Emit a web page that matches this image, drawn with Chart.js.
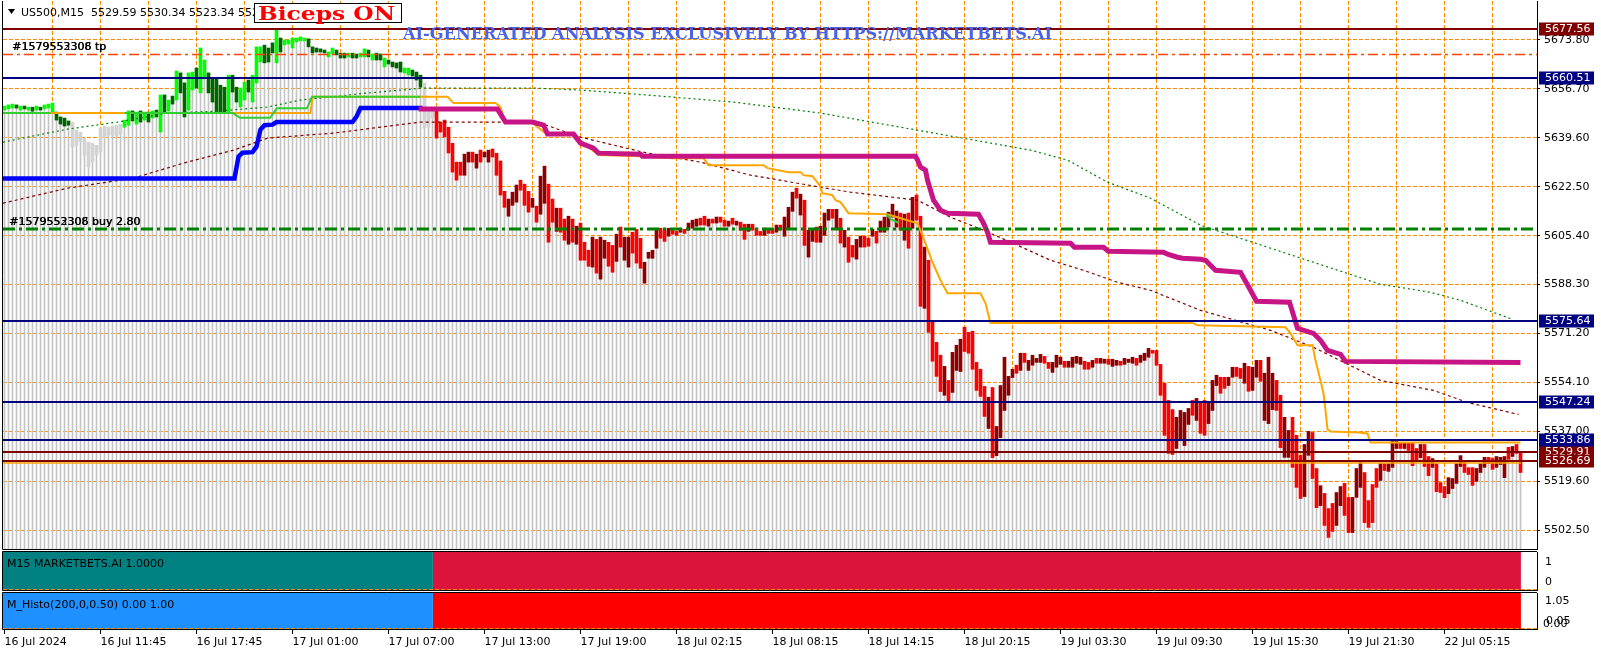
<!DOCTYPE html>
<html>
<head>
<meta charset="utf-8">
<script src="https://cdn.jsdelivr.net/npm/chart.js@4"></script>
<style>
  html, body { margin: 0; padding: 0; background: #fff; }
  body { width: 1601px; height: 654px; position: relative; overflow: hidden; }
  canvas { position: absolute; left: 0; }
  #main { top: 0; }
  #sub1 { top: 551px; }
  #sub2 { top: 592px; }
</style>
</head>
<body>
<canvas id="main" width="1601" height="551"></canvas>
<canvas id="sub1" width="1601" height="40"></canvas>
<canvas id="sub2" width="1601" height="62"></canvas>
<script>
// US500 M15 bodies, one entry per bar
const opens = [
  5649.3, 5649.7, 5650.0, 5651.1, 5649.3, 5650.7, 5649.3, 5650.3, 5649.3, 5650.3,
  5649.7, 5650.0, 5648.6, 5648.6, 5646.9, 5646.5, 5645.5, 5645.1, 5642.3, 5641.6,
  5639.5, 5638.1, 5631.1, 5633.6, 5634.6, 5643.7, 5640.5, 5640.5, 5640.2, 5640.9,
  5643.3, 5644.0, 5649.0, 5644.4, 5649.0, 5645.8, 5648.6, 5646.5, 5649.3, 5641.6,
  5654.6, 5649.0, 5654.2, 5652.8, 5662.3, 5658.8, 5649.3, 5656.3, 5664.0, 5655.3,
  5660.5, 5662.3, 5660.5, 5660.5, 5658.0, 5657.3, 5648.6, 5661.5, 5657.3, 5650.4,
  5652.8, 5659.8, 5652.1, 5658.8, 5666.1, 5672.0, 5671.0, 5672.8, 5665.8, 5674.5,
  5672.1, 5672.4, 5671.0, 5673.1, 5673.5, 5673.5, 5674.2, 5671.4, 5671.0, 5670.7,
  5670.3, 5667.9, 5668.9, 5670.3, 5669.2, 5669.2, 5667.9, 5669.2, 5668.9, 5667.9,
  5667.9, 5670.3, 5666.8, 5669.2, 5668.9, 5664.4, 5666.8, 5666.1, 5665.8, 5666.1,
  5662.3, 5661.6, 5663.3, 5662.6, 5661.5, 5658.8, 5643.3, 5646.5, 5650.0, 5645.1,
  5645.8, 5643.3, 5637.7, 5631.1, 5631.1, 5626.5, 5631.1, 5634.6, 5629.0, 5635.3,
  5632.9, 5631.1, 5635.7, 5634.2, 5631.5, 5620.9, 5612.2, 5616.0, 5617.1, 5624.8,
  5623.4, 5620.9, 5615.3, 5615.7, 5612.9, 5616.7, 5623.4, 5618.2, 5606.9, 5615.0,
  5611.2, 5602.4, 5611.2, 5602.4, 5609.8, 5603.1, 5600.3, 5594.4, 5604.1, 5590.2,
  5597.5, 5603.1, 5602.0, 5596.4, 5608.4, 5596.8, 5594.4, 5606.6, 5607.6, 5604.5,
  5588.8, 5597.5, 5597.5, 5601.0, 5608.0, 5607.3, 5605.2, 5607.6, 5606.9, 5606.6,
  5607.6, 5607.3, 5608.0, 5608.7, 5611.5, 5612.2, 5608.7, 5611.2, 5609.8, 5611.9,
  5610.8, 5608.7, 5611.5, 5609.1, 5610.1, 5609.4, 5606.9, 5609.4, 5608.0, 5606.9,
  5605.5, 5607.6, 5607.6, 5606.6, 5609.1, 5605.2, 5608.0, 5613.9, 5622.0, 5612.6,
  5617.8, 5597.9, 5603.4, 5608.4, 5603.1, 5605.5, 5610.8, 5614.6, 5608.0, 5611.5,
  5601.4, 5604.9, 5602.0, 5597.2, 5601.4, 5605.2, 5604.5, 5605.2, 5606.9, 5606.6,
  5606.6, 5608.4, 5611.9, 5608.4, 5613.3, 5603.8, 5613.3, 5608.0, 5619.6, 5612.2,
  5580.0, 5596.8, 5575.1, 5568.1, 5563.6, 5549.6, 5554.8, 5550.6, 5558.3, 5557.9,
  5573.4, 5571.6, 5572.0, 5561.1, 5558.7, 5552.7, 5538.0, 5552.3, 5528.5, 5534.8,
  5544.3, 5549.6, 5555.8, 5560.1, 5558.3, 5564.3, 5558.3, 5560.1, 5561.1, 5561.1,
  5563.2, 5561.1, 5557.6, 5559.4, 5560.4, 5561.5, 5559.4, 5559.4, 5560.8, 5560.4,
  5561.5, 5561.1, 5559.4, 5562.5, 5560.8, 5560.8, 5562.2, 5559.7, 5560.1, 5561.5,
  5560.4, 5561.1, 5560.8, 5562.5, 5561.1, 5561.8, 5562.9, 5565.3, 5565.3, 5560.4,
  5553.8, 5547.8, 5544.6, 5531.0, 5533.8, 5532.0, 5539.4, 5547.8, 5540.8, 5546.8,
  5547.8, 5539.7, 5544.3, 5553.0, 5555.9, 5555.9, 5553.0, 5555.9, 5559.4, 5559.0,
  5553.8, 5559.7, 5551.3, 5555.9, 5561.8, 5540.8, 5539.7, 5544.6, 5554.8, 5549.6,
  5527.9, 5527.9, 5541.9, 5535.6, 5528.6, 5514.2, 5528.6, 5536.6, 5524.0, 5511.0,
  5515.3, 5510.0, 5511.8, 5504.1, 5511.0, 5518.8, 5513.9, 5501.6, 5513.9, 5517.4,
  5522.6, 5512.8, 5518.4, 5524.0, 5519.8, 5525.7, 5523.0, 5524.4, 5531.0, 5532.8,
  5531.0, 5532.8, 5532.8, 5531.0, 5527.8, 5532.4, 5528.2, 5524.4, 5525.7, 5519.1,
  5517.7, 5515.2, 5517.0, 5518.8, 5524.7, 5526.1, 5524.3, 5524.3, 5519.5, 5522.6,
  5524.4, 5527.9, 5527.5, 5524.4, 5525.4, 5520.8, 5531.4, 5528.2, 5532.4, 5529.6
];
const closes = [
  5650.7, 5651.1, 5651.4, 5650.0, 5650.7, 5649.7, 5650.3, 5648.9, 5650.7, 5649.3,
  5651.1, 5651.4, 5651.8, 5645.8, 5644.4, 5643.7, 5644.0, 5636.3, 5637.0, 5638.4,
  5633.6, 5629.4, 5637.7, 5637.0, 5643.0, 5639.5, 5643.3, 5643.7, 5644.0, 5644.4,
  5645.8, 5649.0, 5645.5, 5648.6, 5645.1, 5648.6, 5645.1, 5649.0, 5646.9, 5654.6,
  5648.6, 5652.8, 5651.4, 5663.0, 5655.3, 5646.9, 5662.3, 5662.6, 5657.0, 5671.0,
  5666.8, 5655.3, 5652.1, 5648.3, 5648.6, 5648.3, 5661.5, 5655.6, 5652.1, 5657.0,
  5659.1, 5655.6, 5661.5, 5671.4, 5671.4, 5665.8, 5666.1, 5669.3, 5677.3, 5669.6,
  5673.8, 5673.8, 5674.5, 5674.5, 5674.9, 5674.5, 5671.4, 5669.3, 5669.6, 5669.6,
  5669.3, 5669.6, 5671.0, 5668.6, 5667.5, 5667.5, 5669.2, 5667.5, 5667.5, 5669.2,
  5670.7, 5667.9, 5668.9, 5666.8, 5666.8, 5667.5, 5665.4, 5664.4, 5664.0, 5662.6,
  5664.0, 5664.0, 5661.2, 5659.8, 5657.3, 5643.0, 5650.0, 5650.0, 5639.5, 5641.6,
  5639.9, 5634.3, 5627.6, 5624.8, 5626.5, 5633.9, 5634.6, 5631.1, 5633.9, 5631.1,
  5634.6, 5635.3, 5632.9, 5626.5, 5619.6, 5615.3, 5618.2, 5620.6, 5623.1, 5621.3,
  5616.0, 5613.6, 5618.5, 5610.1, 5626.2, 5629.7, 5603.1, 5610.1, 5615.0, 5606.6,
  5603.8, 5612.2, 5603.1, 5608.7, 5596.8, 5596.8, 5594.7, 5604.9, 5592.3, 5604.9,
  5603.8, 5594.7, 5592.6, 5605.9, 5601.4, 5604.9, 5604.9, 5599.3, 5595.8, 5594.0,
  5596.1, 5599.6, 5600.3, 5608.0, 5604.5, 5603.4, 5608.0, 5605.9, 5605.5, 5608.0,
  5606.2, 5609.8, 5610.8, 5611.2, 5609.1, 5609.1, 5611.2, 5609.8, 5611.9, 5610.1,
  5608.7, 5610.5, 5609.4, 5610.5, 5607.3, 5604.1, 5609.4, 5607.3, 5605.5, 5605.5,
  5608.0, 5606.2, 5606.2, 5609.1, 5607.3, 5611.9, 5615.3, 5620.6, 5618.5, 5619.9,
  5602.0, 5607.3, 5607.6, 5603.1, 5608.7, 5613.3, 5614.6, 5611.5, 5614.6, 5602.8,
  5607.3, 5596.1, 5597.9, 5604.1, 5605.2, 5601.4, 5601.7, 5607.6, 5602.8, 5610.5,
  5611.9, 5613.6, 5616.4, 5614.0, 5607.3, 5612.9, 5601.0, 5618.8, 5610.8, 5580.7,
  5601.4, 5571.6, 5561.5, 5556.2, 5550.9, 5559.7, 5547.4, 5564.6, 5567.1, 5569.2,
  5564.9, 5564.3, 5558.7, 5551.3, 5549.2, 5542.2, 5548.9, 5527.8, 5538.7, 5553.0,
  5562.9, 5556.2, 5558.7, 5557.3, 5564.3, 5561.1, 5561.8, 5563.6, 5562.5, 5563.9,
  5560.8, 5559.0, 5561.1, 5563.6, 5562.9, 5559.4, 5561.5, 5562.9, 5563.2, 5562.9,
  5558.7, 5558.7, 5561.8, 5560.8, 5562.5, 5562.2, 5560.4, 5562.2, 5561.8, 5560.1,
  5562.5, 5562.2, 5562.9, 5560.1, 5563.6, 5564.3, 5566.0, 5564.3, 5560.1, 5549.6,
  5535.6, 5529.3, 5528.9, 5541.9, 5544.3, 5543.6, 5545.0, 5542.6, 5548.5, 5536.3,
  5535.6, 5547.1, 5554.8, 5556.6, 5550.3, 5552.0, 5555.9, 5559.4, 5556.2, 5555.5,
  5560.8, 5551.0, 5559.4, 5561.8, 5554.5, 5557.3, 5562.9, 5557.3, 5544.3, 5531.3,
  5541.9, 5537.3, 5524.4, 5517.4, 5513.5, 5532.4, 5537.0, 5520.5, 5510.3, 5518.0,
  5504.1, 5499.9, 5502.0, 5515.6, 5517.7, 5507.6, 5501.6, 5513.9, 5524.0, 5526.1,
  5505.1, 5503.4, 5505.1, 5517.4, 5525.7, 5523.3, 5525.7, 5533.8, 5534.2, 5531.0,
  5533.1, 5530.3, 5525.0, 5526.8, 5532.4, 5524.7, 5521.5, 5527.5, 5515.9, 5515.6,
  5513.8, 5520.8, 5520.5, 5525.7, 5528.5, 5522.6, 5521.9, 5518.1, 5524.0, 5525.7,
  5527.9, 5525.7, 5523.7, 5528.2, 5527.9, 5528.2, 5527.2, 5531.7, 5529.3, 5522.6
];
// bars painted neutral grey by the trend indicator, and the bar where the trend turns down
const neutralBars = [17, 18, 19, 20, 21, 22, 23, 24, 25, 26, 27, 28, 29, 105, 106, 107];
const trendFlipBar = 108;

const timeLabels = ['16 Jul 2024', '16 Jul 11:45', '16 Jul 17:45', '17 Jul 01:00', '17 Jul 07:00',
  '17 Jul 13:00', '17 Jul 19:00', '18 Jul 02:15', '18 Jul 08:15', '18 Jul 14:15', '18 Jul 20:15',
  '19 Jul 03:30', '19 Jul 09:30', '19 Jul 15:30', '19 Jul 21:30', '22 Jul 05:15'];
const timeLabelBars = [0, 24, 48, 72, 96, 120, 144, 168, 192, 216, 240, 264, 288, 312, 336, 360];
const priceTicks = [5673.80, 5656.70, 5639.60, 5622.50, 5605.40, 5588.30, 5571.20, 5554.10, 5537.00, 5519.60, 5502.50];

// indicator lines, as vertices (bar index, price)
const blueBars = [-0.375, 57.5, 58.5, 59.5, 62, 63, 64, 65, 67, 68, 87, 88, 89, 104.5];
const bluePrices = [5625.4, 5625.4, 5633.0, 5634.4, 5634.6, 5636.5, 5642.5, 5644.0, 5644.2, 5645.1, 5645.1, 5647.0, 5650.0, 5650.0];

const magentaBars = [103.5, 123.25, 125.25, 132, 134.75, 135.75, 142.25, 144, 147.25, 148.5, 159, 159.5, 227.75, 228.25,
  229, 230.25, 230.75, 232.25, 234, 235.75, 243.5, 244.75, 245.75, 246.5, 266.5, 267.5, 274.75, 276, 289.75, 290.75,
  293.25, 294.5, 299, 300.25, 302.75, 309, 311.5, 313, 321.25, 323.25, 327.25, 329, 330.75, 334, 335.25, 379];
const magentaPrices = [5649.65, 5649.65, 5645.1, 5645.1, 5644.05, 5640.9, 5640.9, 5637.75, 5636.0, 5634.25, 5633.9, 5633.2,
  5633.2, 5631.8, 5629.35, 5628.3, 5624.8, 5617.8, 5614.3, 5613.25, 5612.9, 5609.75, 5606.6, 5603.1, 5602.75, 5601.35,
  5601.35, 5599.95, 5599.6, 5598.9, 5597.85, 5597.5, 5597.15, 5596.8, 5593.3, 5592.6, 5586.3, 5582.45, 5582.1, 5573.0,
  5571.25, 5568.8, 5565.3, 5563.9, 5561.45, 5561.1];

const orangeBars = [-0.375, 76.5, 77, 110.75, 112.25, 122.75, 124, 125.25, 132, 135.75, 142.25, 148.5, 159, 167, 174.75,
  176, 189.75, 190.75, 196, 199, 199.75, 202, 203.75, 204.5, 207, 207.75, 209, 211, 220.75, 228.25, 229.75, 232, 234,
  235.75, 244, 245.25, 246.5, 297, 298.25, 320.25, 321.5, 323.25, 327, 327.75, 329, 329.75, 330.25, 330.75, 331.5,
  338.5, 340.75, 341.5, 379];
const orangePrices = [5648.25, 5648.25, 5654.0, 5654.0, 5651.75, 5651.75, 5650.35, 5644.75, 5644.75, 5640.55, 5640.55,
  5633.55, 5633.2, 5632.5, 5632.5, 5630.05, 5630.05, 5629.0, 5627.6, 5627.6, 5626.55, 5626.2, 5623.05, 5620.25, 5619.55,
  5617.8, 5617.1, 5613.25, 5612.9, 5609.75, 5604.5, 5596.1, 5589.8, 5585.25, 5585.25, 5581.75, 5574.9, 5574.9, 5574.05,
  5573.35, 5571.25, 5567.05, 5567.05, 5561.8, 5554.8, 5550.25, 5544.3, 5537.65, 5536.95, 5536.6, 5536.25, 5533.1, 5533.1];

const greenBars = [-0.375, 11.5, 11.5, 30, 57.1, 58.9, 66.4, 68.1, 75.6, 76.9, 104, 104, 220.5, 221.5, 223.5];
const greenPrices = [5648.25, 5648.25, null, 5648.25, 5648.25, 5646.6, 5646.6, 5649.9, 5649.9, 5654.0, 5654.0, null,
  5612.9, 5611.2, 5609.9];

const maSlowBars = [-0.375, 15.75, 28.25, 40.75, 53.25, 65.75, 74, 90.75, 104.75, 132.25, 144, 160.75, 182.25, 204,
  256.5, 265.75, 275.75, 286.5, 299, 344, 356.5, 364, 377];
const maSlowPrices = [5638.1, 5642.65, 5645.1, 5648.25, 5648.95, 5650.35, 5652.8, 5655.25, 5657.0, 5657.0, 5656.3,
  5654.55, 5652.1, 5648.25, 5635.3, 5631.8, 5624.1, 5618.5, 5609.05, 5588.4, 5585.6, 5582.8, 5576.15];

const maFastBars = [-0.375, 15.75, 32.25, 44.75, 57.25, 65.75, 82.25, 104, 133.25, 139, 144, 152.25, 160.75, 174, 186.5,
  204, 211.5, 228.25, 236.5, 244.75, 253.25, 261.5, 269.75, 278.25, 286.5, 299, 316.5, 327.25, 344, 357.25, 365.75, 378.5];
const maFastPrices = [5616.75, 5622.0, 5625.5, 5630.75, 5635.3, 5639.5, 5641.25, 5645.1, 5645.1, 5642.3, 5639.85,
  5637.05, 5634.25, 5631.1, 5626.55, 5622.35, 5620.6, 5617.8, 5611.85, 5607.3, 5602.05, 5596.8, 5593.3, 5589.1, 5586.3,
  5579.3, 5572.3, 5566.35, 5554.8, 5551.3, 5547.1, 5542.9];

// horizontal levels
const supportLevels = [5660.51, 5575.64, 5547.24, 5533.86];
const priceLevels = [5677.56, 5529.91, 5526.69];
const trailLevel = 5525.9;
const tpLevel = 5668.9;
const entryLevel = 5607.65;

// sub windows: runs of the signal (start bar, end bar, value)
const signalRunStart = [-0.375, 107.1];
const signalRunEnd = [107.1, 379.1];
const signalValues = [1, 1];
const histoValues = [1, 1];

const X_MIN = -0.375, X_MAX = 383.125;
const Y_MIN = 5495.86, Y_MAX = 5687.43;
const FONT = 'DejaVu Sans';

function candleColor(i) {
  if (neutralBars.includes(i)) return '#D3D3D3';
  const up = closes[i] >= opens[i];
  if (i < trendFlipBar) return up ? '#00FF00' : '#006400';
  return up ? '#8B0000' : '#FF0000';
}

function lineSet(xs, ys, color, width, dash, order) {
  return {
    type: 'line', data: xs.map((x, k) => ({ x: x, y: ys[k] })),
    borderColor: color, borderWidth: width, borderDash: dash,
    pointRadius: 0, fill: false, tension: 0, spanGaps: false, order: order
  };
}

function hLine(ctx, area, y, color, width, dash, x1) {
  ctx.save();
  ctx.strokeStyle = color;
  ctx.lineWidth = width;
  ctx.setLineDash(dash || []);
  ctx.beginPath();
  ctx.moveTo(area.left, y);
  ctx.lineTo(x1 === undefined ? area.right : x1, y);
  ctx.stroke();
  ctx.restore();
}

const mainDecor = {
  id: 'mainDecor',
  beforeDatasetsDraw(chart) {
    const { ctx, chartArea: a, scales: { x, y } } = chart;
    ctx.save();
    ctx.strokeStyle = '#FF8C00';
    ctx.lineWidth = 1;
    ctx.setLineDash([4, 2]);
    ctx.beginPath();
    for (let b = 12; b < X_MAX; b += 12) {
      const px = Math.round(x.getPixelForValue(b) - 0.5) + 0.5;
      ctx.moveTo(px, a.top); ctx.lineTo(px, a.bottom);
    }
    priceTicks.forEach(p => {
      const py = Math.round(y.getPixelForValue(p) - 0.5) + 0.5;
      ctx.moveTo(a.left, py); ctx.lineTo(a.right, py);
    });
    ctx.stroke();
    ctx.restore();
  },
  afterDatasetsDraw(chart) {
    const { ctx, chartArea: a, scales: { x, y } } = chart;
    const lastX = x.getPixelForValue(379.1);
    hLine(ctx, a, y.getPixelForValue(trailLevel), '#FFA500', 1.5, [], lastX);
    supportLevels.forEach(p => hLine(ctx, a, Math.round(y.getPixelForValue(p)), '#000080', 2));
    priceLevels.forEach(p => hLine(ctx, a, Math.round(y.getPixelForValue(p)), '#800000', 2));
    hLine(ctx, a, Math.round(y.getPixelForValue(tpLevel)) + 0.5, '#FF4500', 1.5, [10, 4, 3, 4]);
    hLine(ctx, a, Math.round(y.getPixelForValue(entryLevel)), '#008000', 3, [12, 4, 3, 4]);

    ctx.save();
    ctx.font = '11px ' + FONT;
    ctx.fillStyle = '#000';
    ctx.textBaseline = 'middle';
    const tpY = y.getPixelForValue(tpLevel) - 7;
    ctx.fillText('#1579553308 tp', 12, tpY);
    ctx.fillText('#1579552306 tp', 12.5, tpY);
    const enY = y.getPixelForValue(entryLevel) - 7;
    ctx.fillText('#1579553308 buy 2.80', 9, enY);
    ctx.fillText('#1579552306 buy 2.80', 9.5, enY);
    ctx.restore();
  },
  afterDraw(chart) {
    const { ctx, chartArea: a, scales: { y } } = chart;
    ctx.save();
    // frame
    ctx.strokeStyle = '#000';
    ctx.lineWidth = 1;
    ctx.beginPath();
    ctx.moveTo(2.5, a.top); ctx.lineTo(2.5, a.bottom + 0.5);
    ctx.lineTo(a.right, a.bottom + 0.5);
    ctx.stroke();

    // price boxes on the axis
    const boxes = [
      [5677.56, '#800000'], [5660.51, '#000080'], [5575.64, '#000080'], [5547.24, '#000080'],
      [5529.91, '#800000'], [5533.86, '#000080'], [5526.69, '#800000']
    ];
    ctx.font = '11px ' + FONT;
    ctx.textBaseline = 'middle';
    boxes.forEach(([p, c]) => {
      const py = Math.round(y.getPixelForValue(p));
      ctx.fillStyle = c;
      ctx.fillRect(a.right + 2, py - 6.5, 55, 13);
      ctx.fillStyle = '#fff';
      ctx.fillText(p.toFixed(2), a.right + 8, py + 0.5);
    });

    // title
    ctx.fillStyle = '#000';
    ctx.beginPath();
    ctx.moveTo(8, 9); ctx.lineTo(15, 9); ctx.lineTo(11.5, 14); ctx.closePath();
    ctx.fill();
    ctx.fillText('US500,M15  5529.59 5530.34 5523.34 5526.69', 21, 13);

    // Biceps label
    ctx.fillStyle = '#fff';
    ctx.fillRect(254, 3, 148, 20);
    ctx.strokeRect(254.5, 3.5, 147, 19);
    ctx.save();
    ctx.font = 'bold 18px "DejaVu Serif"';
    const bw = ctx.measureText('Biceps ON').width;
    ctx.translate(258, 15);
    ctx.scale(137 / bw, 1);
    ctx.fillStyle = '#FF0000';
    ctx.textBaseline = 'middle';
    ctx.fillText('Biceps ON', 0, 0);
    ctx.restore();

    // banner
    ctx.save();
    ctx.font = 'bold 16px "DejaVu Serif"';
    const txt = 'AI-GENERATED ANALYSIS EXCLUSIVELY BY HTTPS://MARKETBETS.AI';
    const tw = ctx.measureText(txt).width;
    ctx.translate(403, 35);
    ctx.scale(649 / tw, 1);
    ctx.textBaseline = 'middle';
    ctx.fillStyle = '#4A62E6';
    ctx.fillText(txt, 0, 0);
    ctx.restore();
    ctx.restore();
  }
};

const xHidden = { type: 'linear', min: X_MIN, max: X_MAX, offset: false, display: false };
const base = {
  responsive: false, animation: false, devicePixelRatio: 1,
  plugins: { legend: { display: false }, tooltip: { enabled: false } }
};
function fitRight(s) { s.width = 64; s.paddingTop = 0; s.paddingBottom = 0; }

new Chart(document.getElementById('main'), {
  type: 'bar',
  data: {
    datasets: [
      {
        type: 'bar', data: opens.map((o, i) => ({ x: i, y: [5490, Math.min(o, closes[i])] })),
        backgroundColor: '#C4C4C4', barThickness: 1, grouped: false, order: 20
      },
      {
        type: 'bar', data: opens.map((o, i) => ({ x: i, y: [o, closes[i]] })),
        backgroundColor: c => candleColor(c.dataIndex), barThickness: 3, grouped: false, order: 19
      },
      lineSet(maSlowBars, maSlowPrices, '#008000', 1.2, [2, 3], 9),
      lineSet(maFastBars, maFastPrices, '#800000', 1.2, [3, 3], 8),
      lineSet(orangeBars, orangePrices, '#FFA500', 2, [], 7),
      lineSet(greenBars, greenPrices, '#32CD32', 2, [], 6),
      lineSet(blueBars, bluePrices, '#0000FF', 4.5, [], 5),
      lineSet(magentaBars, magentaPrices, '#C71585', 5, [], 4)
    ]
  },
  options: Object.assign({}, base, {
    layout: { padding: { left: 3, top: 1, bottom: 2, right: 0 } },
    scales: {
      x: xHidden,
      y: {
        position: 'right', min: Y_MIN, max: Y_MAX,
        afterBuildTicks: s => { s.ticks = priceTicks.map(v => ({ value: v })); },
        afterFit: fitRight,
        ticks: { callback: v => v.toFixed(2), color: '#000', font: { family: FONT, size: 11 }, padding: 4 },
        grid: { drawOnChartArea: false, drawTicks: true, tickLength: 3, tickColor: '#000' },
        border: { display: true, color: '#000', width: 1 }
      }
    }
  }),
  plugins: [mainDecor]
});

function runSets(values, colors) {
  return values.map((v, k) => ({
    type: 'line', data: [{ x: signalRunStart[k], y: v }, { x: signalRunEnd[k], y: v }],
    borderWidth: 0, borderColor: colors[k], backgroundColor: colors[k], fill: 'origin', pointRadius: 0
  }));
}

function subDecor(title, labels) {
  return {
    id: 'subDecor',
    afterDraw(chart) {
      const { ctx, chartArea: a } = chart;
      ctx.save();
      hLine(ctx, a, a.bottom - 0.5, '#FF8C00', 1, [4, 2]);
      ctx.strokeStyle = '#000';
      ctx.lineWidth = 1;
      ctx.beginPath();
      ctx.moveTo(2.5, a.top - 0.5); ctx.lineTo(a.right, a.top - 0.5);
      ctx.moveTo(2.5, a.top - 0.5); ctx.lineTo(2.5, a.bottom + 0.5);
      ctx.moveTo(2.5, a.bottom + 0.5); ctx.lineTo(a.right, a.bottom + 0.5);
      ctx.stroke();
      ctx.font = '11px ' + FONT;
      ctx.textBaseline = 'middle';
      ctx.fillStyle = '#000';
      ctx.fillText(title, 7, a.top + 12);
      labels.forEach(([t, dx, dy]) => ctx.fillText(t, a.right + 8 + dx, a.top + dy));
      ctx.restore();
    }
  };
}

const subY = {
  position: 'right', min: 0, max: 1,
  afterFit: fitRight,
  ticks: { display: false },
  grid: { drawOnChartArea: false, drawTicks: false },
  border: { display: true, color: '#000', width: 1 }
};

new Chart(document.getElementById('sub1'), {
  type: 'line',
  data: { datasets: runSets(signalValues, ['#008080', '#DC143C']) },
  options: Object.assign({}, base, {
    layout: { padding: { left: 3, top: 1, bottom: 1, right: 0 } },
    scales: { x: xHidden, y: subY }
  }),
  plugins: [subDecor('M15 MARKETBETS.AI 1.0000', [['1', 0, 10], ['0', 0, 30]])]
});

new Chart(document.getElementById('sub2'), {
  type: 'line',
  data: { datasets: runSets(histoValues, ['#1E90FF', '#FF0000']) },
  options: Object.assign({}, base, {
    layout: { padding: { left: 3, top: 1, bottom: 0, right: 0 } },
    scales: {
      x: {
        type: 'linear', min: X_MIN, max: X_MAX, offset: false, position: 'bottom',
        afterBuildTicks: s => { s.ticks = timeLabelBars.map(v => ({ value: v })); },
        afterFit: s => { s.height = 25; s.paddingLeft = 0; s.paddingRight = 0; },
        ticks: {
          callback: (v, i) => timeLabels[i], align: 'start', maxRotation: 0, autoSkip: false,
          color: '#000', font: { family: FONT, size: 11 }, padding: 2
        },
        grid: { drawOnChartArea: false, drawTicks: true, tickLength: 5, tickColor: '#000' },
        border: { display: true, color: '#000', width: 1 }
      },
      y: subY
    }
  }),
  plugins: [subDecor('M_Histo(200,0,0.50) 0.00 1.00', [['1.05', 0, 8], ['0.00', -2, 31], ['0.05', 1, 28]])]
});
</script>
</body>
</html>
